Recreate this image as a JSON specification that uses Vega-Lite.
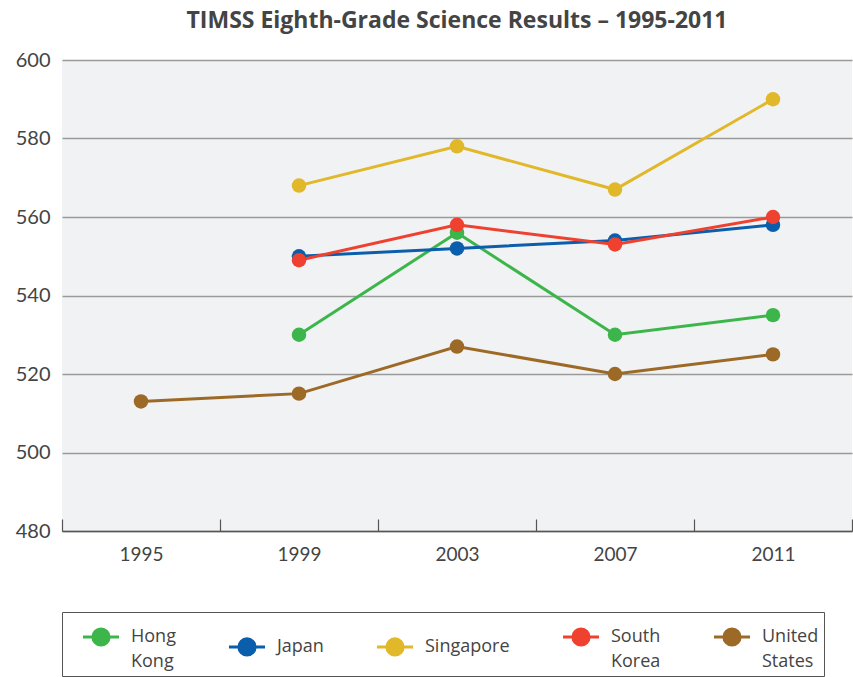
{
  "$schema": "https://vega.github.io/schema/vega-lite/v6.json",
  "autosize": {"type": "none"},
  "width": 790,
  "height": 471,
  "padding": {"left": 62, "top": 60, "right": 1, "bottom": 146},
  "title": {"text": "TIMSS Eighth-Grade Science Results – 1995-2011", "fontSize": 23, "font": "Open Sans", "fontWeight": "bold", "color": "#444444", "offset": 17, "anchor": "middle"},
  "config": {"view": {"fill": "#f1f2f4", "stroke": null}},
  "data": {"values": [
    {"country": "Hong Kong", "year": "1999", "score": 530},
    {"country": "Hong Kong", "year": "2003", "score": 556},
    {"country": "Hong Kong", "year": "2007", "score": 530},
    {"country": "Hong Kong", "year": "2011", "score": 535},
    {"country": "Japan", "year": "1999", "score": 550},
    {"country": "Japan", "year": "2003", "score": 552},
    {"country": "Japan", "year": "2007", "score": 554},
    {"country": "Japan", "year": "2011", "score": 558},
    {"country": "Singapore", "year": "1999", "score": 568},
    {"country": "Singapore", "year": "2003", "score": 578},
    {"country": "Singapore", "year": "2007", "score": 567},
    {"country": "Singapore", "year": "2011", "score": 590},
    {"country": "South Korea", "year": "1999", "score": 549},
    {"country": "South Korea", "year": "2003", "score": 558},
    {"country": "South Korea", "year": "2007", "score": 553},
    {"country": "South Korea", "year": "2011", "score": 560},
    {"country": "United States", "year": "1995", "score": 513},
    {"country": "United States", "year": "1999", "score": 515},
    {"country": "United States", "year": "2003", "score": 527},
    {"country": "United States", "year": "2007", "score": 520},
    {"country": "United States", "year": "2011", "score": 525}
  ]},
  "encoding": {
    "x": {
      "field": "year", "type": "ordinal", "bandPosition": 0.5,
      "scale": {"type": "band", "domain": ["1995", "1999", "2003", "2007", "2011"], "paddingInner": 0, "paddingOuter": 0},
      "axis": {"title": null, "labelAngle": 0, "labelFontSize": 19, "labelFont": "Lato", "labelColor": "#444444", "labelPadding": 26, "domainColor": "#555555", "domainWidth": 1.5, "tickColor": "#555555", "tickWidth": 1.2, "tickSize": -12, "tickBand": "extent", "grid": false}
    },
    "y": {
      "field": "score", "type": "quantitative",
      "scale": {"domain": [480, 600], "nice": false, "zero": false},
      "axis": {"title": null, "values": [480, 500, 520, 540, 560, 580, 600], "labelFontSize": 20, "labelFont": "Lato", "labelColor": "#444444", "labelPadding": 12, "ticks": false, "domain": false, "grid": true, "gridColor": "#9a9a9a", "gridWidth": 1.5}
    },
    "color": {
      "field": "country", "type": "nominal",
      "scale": {"domain": ["Hong Kong", "Japan", "Singapore", "South Korea", "United States"], "range": ["#3cb64a", "#0a5eab", "#e0b82a", "#ef4130", "#9c6a26"]},
      "legend": {
        "orient": "none", "legendX": 0, "legendY": 552, "direction": "horizontal", "columns": 5,
        "title": null, "strokeColor": "#555555", "padding": 5, "columnPadding": 37, "symbolOffset": 14,
        "labelFontSize": 18, "labelFont": "Open Sans", "labelColor": "#444444", "labelOffset": 10,
        "symbolType": "M-1,0H1M-0.45,0A0.45,0.45,0,1,1,0.45,0A0.45,0.45,0,1,1,-0.45,0Z",
        "symbolSize": 1300, "symbolStrokeWidth": 3, "symbolOpacity": 1,
        "labelExpr": "split(datum.label, ' ')",
        "encode": {
          "symbols": {"update": {"fill": {"scale": "color", "field": "value"}, "stroke": {"scale": "color", "field": "value"}}},
          "labels": {"update": {"lineHeight": {"value": 25}}}
        }
      }
    }
  },
  "layer": [
    {"mark": {"type": "line", "strokeWidth": 3}},
    {"mark": {"type": "point", "filled": true, "size": 210, "opacity": 1}}
  ]
}
